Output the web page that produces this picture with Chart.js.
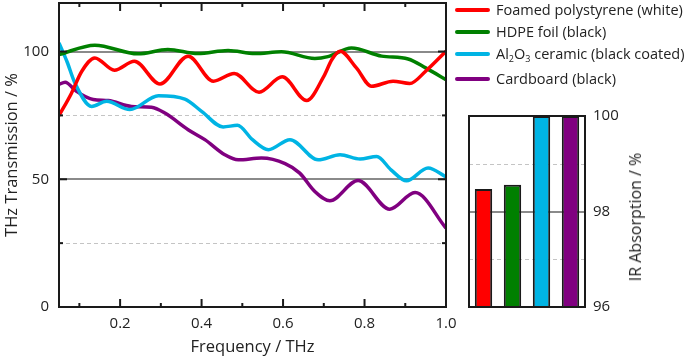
<!DOCTYPE html>
<html>
<head>
<meta charset="utf-8">
<script src="https://cdn.jsdelivr.net/npm/chart.js@4.4.1/dist/chart.umd.min.js"></script>
<style>
  body { margin: 0; background: #fff; }
  #wrap { position: relative; width: 685px; height: 358px; font-family: "Open Sans", sans-serif; color: #222; overflow: hidden; }
  #mainChart { position: absolute; left: 0; top: 0; }
  #irChart { position: absolute; left: 455px; top: 100px; }
  #legend { position: absolute; left: 455px; top: 0; width: 230px; height: 95px; }
  .item { position: absolute; left: 0; height: 20px; width: 230px; white-space: nowrap; font-size: 14.5px; line-height: 20px; }
  .item .swatch { position: absolute; left: 0; top: 8px; width: 35px; height: 4px; border-radius: 2px; }
  .item .label { position: absolute; left: 41px; top: 0; }
  .item sub { font-size: 9px; vertical-align: -3px; line-height: 0; }
  #irTitle { position: absolute; left: 635px; top: 217px; font-size: 16px; white-space: nowrap; transform: translate(-50%, -50%) rotate(-90deg); }
</style>
</head>
<body>
<div id="wrap">
  <canvas id="mainChart" width="685" height="358"></canvas>
  <canvas id="irChart" width="230" height="258"></canvas>
  <div id="legend"></div>
  <div id="irTitle">IR Absorption / %</div>
</div>
<script>
// THz transmission curves (frequency in THz, transmission in %)
const redFreq = [0.05, 0.08, 0.106, 0.138, 0.186, 0.235, 0.298, 0.367, 0.429, 0.48, 0.541, 0.598, 0.658, 0.70, 0.72, 0.74, 0.78, 0.817, 0.87, 0.911, 0.95, 1.0];
const redVals = [74.9, 83.5, 92.3, 97.5, 92.7, 96.2, 87.3, 98.2, 88.4, 91.4, 84.1, 90.1, 80.8, 90.3, 96.9, 100.1, 93.6, 86.4, 88.4, 87.5, 92.3, 100.1];

const greenFreq = [0.05, 0.138, 0.244, 0.317, 0.391, 0.465, 0.531, 0.596, 0.678, 0.71, 0.768, 0.842, 0.907, 0.95, 1.0];
const greenVals = [98.8, 102.5, 99.1, 100.8, 99.2, 100.4, 99.2, 99.9, 97.3, 98.0, 101.4, 98.2, 97.1, 93.6, 89.0];

const cyanFreq = [0.05, 0.07, 0.089, 0.13, 0.167, 0.224, 0.294, 0.359, 0.4, 0.453, 0.488, 0.525, 0.564, 0.617, 0.686, 0.74, 0.789, 0.83, 0.865, 0.903, 0.956, 1.0];
const cyanVals = [103.4, 95.9, 87.7, 78.5, 80.5, 77.3, 82.7, 81.4, 76.6, 70.5, 71.1, 65.5, 61.6, 65.5, 57.6, 59.6, 57.9, 58.9, 53.7, 49.4, 54.4, 50.9];

const purpleFreq = [0.05, 0.065, 0.093, 0.134, 0.171, 0.228, 0.277, 0.31, 0.367, 0.408, 0.457, 0.49, 0.547, 0.605, 0.641, 0.678, 0.715, 0.784, 0.862, 0.924, 1.0];
const purpleVals = [87.1, 88.0, 84.4, 81.2, 80.8, 78.5, 78.2, 75.9, 69.4, 65.5, 59.6, 57.6, 58.3, 56.1, 52.4, 45.2, 41.6, 49.5, 38.3, 44.8, 30.9];

const seriesNames = ["Foamed polystyrene (white)", "HDPE foil (black)", "Al2O3 ceramic (black coated)", "Cardboard (black)"];
const seriesColors = ["#ff0000", "#008000", "#00b4e4", "#800080"];

// IR absorption bars (%)
const irValues = [98.47, 98.56, 100, 100];

const xLabelTicks = [0.2, 0.4, 0.6, 0.8, 1.0];
const xMinorTicks = [0.1, 0.3, 0.5, 0.7, 0.9];
const yLabelTicks = [0, 50, 100];
const yMajorTicks = [50, 100];
const yMinorTicks = [25, 75];
const irLabelTicks = [96, 98, 100];

const pairs = (xs, ys) => xs.map((x, i) => ({ x: x, y: ys[i] }));
const fixTicks = (list) => (s) => { s.ticks = list.map((v) => ({ value: v })); };

// gridlines under the data, frame + inward ticks on top
const frameTicks = {
  id: "frameTicks",
  beforeDatasetsDraw(chart, args, opts) {
    const { ctx, chartArea: a } = chart;
    const ys = chart.scales.y;
    ctx.save();
    ctx.lineWidth = 2;
    ctx.strokeStyle = "#8a8a8a";
    opts.solid.forEach((v) => {
      const y = Math.round(ys.getPixelForValue(v));
      ctx.beginPath(); ctx.moveTo(a.left, y); ctx.lineTo(a.right, y); ctx.stroke();
    });
    ctx.lineWidth = 1;
    ctx.strokeStyle = "#c4c4c4";
    ctx.setLineDash([4, 3]);
    opts.dashed.forEach((v) => {
      const y = Math.round(ys.getPixelForValue(v)) + 0.5;
      ctx.beginPath(); ctx.moveTo(a.left, y); ctx.lineTo(a.right, y); ctx.stroke();
    });
    ctx.restore();
  },
  afterDatasetsDraw(chart, args, opts) {
    const { ctx, chartArea: a } = chart;
    const xs = chart.scales.x, ys = chart.scales.y;
    ctx.save();
    ctx.strokeStyle = "#1a1a1a";
    ctx.lineWidth = 2;
    const tick = (x1, y1, x2, y2) => { ctx.beginPath(); ctx.moveTo(x1, y1); ctx.lineTo(x2, y2); ctx.stroke(); };
    (opts.xMajor || []).forEach((v) => {
      const x = xs.getPixelForValue(v);
      tick(x, a.bottom, x, a.bottom - 8); tick(x, a.top, x, a.top + 8);
    });
    (opts.xMinor || []).forEach((v) => {
      const x = xs.getPixelForValue(v);
      tick(x, a.bottom, x, a.bottom - 4); tick(x, a.top, x, a.top + 4);
    });
    (opts.yMajor || []).forEach((v) => {
      const y = ys.getPixelForValue(v);
      tick(a.left, y, a.left + 8, y); tick(a.right, y, a.right - 8, y);
    });
    (opts.yMinor || []).forEach((v) => {
      const y = ys.getPixelForValue(v);
      tick(a.left, y, a.left + 4, y); tick(a.right, y, a.right - 4, y);
    });
    ctx.strokeRect(a.left, a.top, a.right - a.left, a.bottom - a.top);
    ctx.restore();
  },
};

const lineSets = [
  [redFreq, redVals], [greenFreq, greenVals], [cyanFreq, cyanVals], [purpleFreq, purpleVals],
].map((s, i) => ({
  label: seriesNames[i],
  data: pairs(s[0], s[1]),
  borderColor: seriesColors[i],
  borderWidth: 3.5,
  pointRadius: 0,
  cubicInterpolationMode: "monotone",
  fill: false,
}));

const tickFont = { family: "'Open Sans', sans-serif", size: 15 };
const titleFont = { family: "'Open Sans', sans-serif", size: 16.5 };

const noPad = (s) => { s.paddingTop = 0; s.paddingBottom = 0; s.paddingLeft = 0; s.paddingRight = 0; };

new Chart(document.getElementById("mainChart"), {
  type: "line",
  data: { datasets: lineSets },
  options: {
    responsive: false,
    animation: false,
    layout: { padding: { left: 0, top: 3, right: 239, bottom: 0 } },
    scales: {
      x: {
        type: "linear",
        bounds: "data",
        min: 0.05,
        max: 1.0,
        afterBuildTicks: fixTicks(xLabelTicks),
        afterFit: (s) => { s.height = 51; noPad(s); },
        grid: { display: false, drawTicks: false },
        border: { display: false },
        ticks: {
          padding: 8,
          color: "#222",
          font: tickFont,
          maxRotation: 0,
          autoSkip: false,
          callback: (v) => v.toFixed(1),
        },
        title: { display: true, text: "Frequency / THz", color: "#222", font: titleFont, padding: { top: 0, bottom: 1 } },
      },
      y: {
        bounds: "data",
        min: 0,
        max: 119,
        afterBuildTicks: fixTicks(yLabelTicks),
        afterFit: (s) => { s.width = 59; noPad(s); },
        grid: { display: false, drawTicks: false },
        border: { display: false },
        ticks: { padding: 10, color: "#222", font: tickFont, autoSkip: false },
        title: { display: true, text: "THz Transmission / %", color: "#222", font: titleFont, padding: { top: 2, bottom: 0 } },
      },
    },
    plugins: {
      legend: { display: false },
      tooltip: { enabled: false },
      frameTicks: { solid: [50, 100], dashed: [25, 75], xMajor: xLabelTicks, xMinor: xMinorTicks, yMajor: yMajorTicks, yMinor: yMinorTicks },
    },
  },
  plugins: [frameTicks],
});

new Chart(document.getElementById("irChart"), {
  type: "bar",
  data: {
    labels: seriesNames,
    datasets: [{
      data: irValues,
      backgroundColor: seriesColors,
      borderColor: "#1a1a1a",
      borderWidth: 2,
      borderSkipped: false,
      barPercentage: 0.6,
      categoryPercentage: 1.0,
    }],
  },
  options: {
    responsive: false,
    animation: false,
    layout: { padding: { left: 14, top: 16, right: 40, bottom: 51 } },
    scales: {
      x: { display: false },
      y: {
        position: "right",
        bounds: "data",
        min: 96,
        max: 100,
        afterBuildTicks: fixTicks(irLabelTicks),
        afterFit: (s) => { s.width = 60; noPad(s); },
        grid: { display: false, drawTicks: false },
        border: { display: false },
        ticks: { padding: 8, color: "#222", font: tickFont, autoSkip: false },
      },
    },
    plugins: {
      legend: { display: false },
      tooltip: { enabled: false },
      frameTicks: { solid: [98], dashed: [97, 99] },
    },
  },
  plugins: [frameTicks],
});

// legend with subscripts for the chemical formula
const legend = document.getElementById("legend");
const rowTops = [0, 22, 44, 69];
seriesNames.forEach((name, i) => {
  const row = document.createElement("div");
  row.className = "item";
  row.style.top = rowTops[i] + "px";
  const sw = document.createElement("div");
  sw.className = "swatch";
  sw.style.background = seriesColors[i];
  const lab = document.createElement("span");
  lab.className = "label";
  lab.innerHTML = name.replace(/([A-Za-z])(\d)/g, "$1<sub>$2</sub>");
  row.appendChild(sw);
  row.appendChild(lab);
  legend.appendChild(row);
});
</script>
</body>
</html>
